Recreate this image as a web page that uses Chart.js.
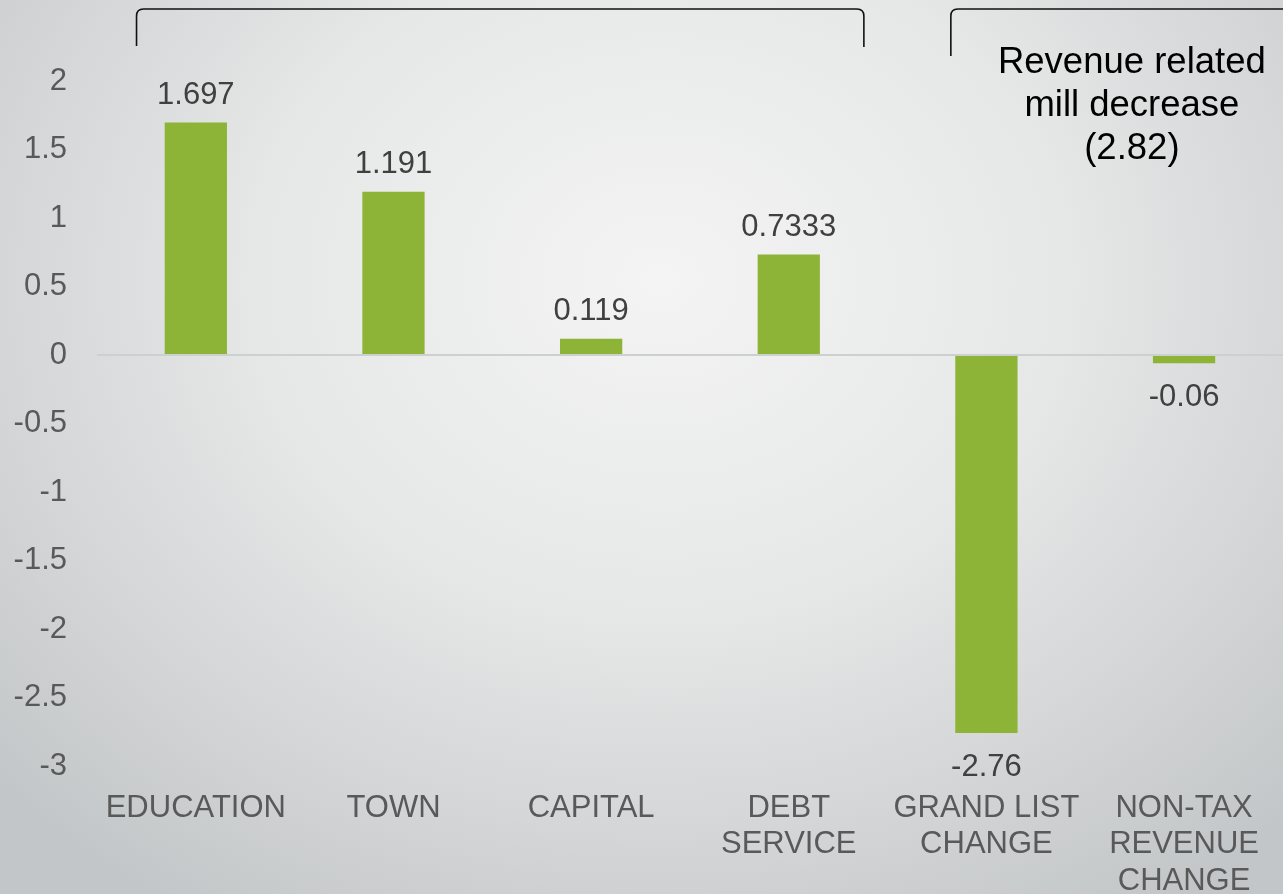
<!DOCTYPE html>
<html>
<head>
<meta charset="utf-8">
<script src="https://cdn.jsdelivr.net/npm/chart.js@4/dist/chart.umd.min.js"></script>
<style>
  html, body { margin: 0; padding: 0; }
  body { width: 1283px; height: 894px; overflow: hidden;
    background: radial-gradient(ellipse 900px 750px at 660px 280px, #f4f4f4 0%, #e6e7e7 45%, #c3c6c8 100%); }
  #wrap { position: absolute; left: 0; top: 0; width: 1283px; height: 894px; }
</style>
</head>
<body>
<div id="wrap"><canvas id="c" width="1283" height="894"></canvas></div>
<script>
const categories = [["EDUCATION"], ["TOWN"], ["CAPITAL"], ["DEBT", "SERVICE"], ["GRAND LIST", "CHANGE"], ["NON-TAX", "REVENUE", "CHANGE"]];
const values = [1.697, 1.191, 0.119, 0.7333, -2.76, -0.06];
const yTickLabels = ["2", "1.5", "1", "0.5", "0", "-0.5", "-1", "-1.5", "-2", "-2.5", "-3"];
const noteLines = ["Revenue related", "mill decrease", "(2.82)"];

const FONT = "'Liberation Sans', Arial, sans-serif";

const overlay = {
  id: 'overlay',
  afterDatasetsDraw(chart) {
    const ctx = chart.ctx;
    const meta = chart.getDatasetMeta(0);
    ctx.save();
    ctx.font = "31px " + FONT;
    ctx.fillStyle = "#404040";
    ctx.textAlign = "center";
    ctx.textBaseline = "middle";
    meta.data.forEach((bar, i) => {
      const v = values[i];
      const y = v >= 0 ? bar.y - 27 : bar.y + 34;
      ctx.fillText(String(v), bar.x, y);
    });
    ctx.restore();

    // brackets
    const xs = chart.scales.x;
    const w = xs.getPixelForValue(1) - xs.getPixelForValue(0);
    ctx.save();
    ctx.strokeStyle = "#111";
    ctx.lineWidth = 1.6;
    const r = 7;
    const top = 9;
    const l1 = xs.getPixelForValue(0) - 0.30 * w, r1 = xs.getPixelForValue(3) + 0.38 * w;
    ctx.beginPath();
    ctx.moveTo(l1, 46);
    ctx.lineTo(l1, top + r);
    ctx.quadraticCurveTo(l1, top, l1 + r, top);
    ctx.lineTo(r1 - r, top);
    ctx.quadraticCurveTo(r1, top, r1, top + r);
    ctx.lineTo(r1, 47);
    ctx.stroke();
    const l2 = xs.getPixelForValue(4) - 0.18 * w;
    ctx.beginPath();
    ctx.moveTo(l2, 56);
    ctx.lineTo(l2, top + r);
    ctx.quadraticCurveTo(l2, top, l2 + r, top);
    ctx.lineTo(chart.width + 5, top);
    ctx.stroke();

    ctx.fillStyle = "#000";
    ctx.font = "36.5px " + FONT;
    ctx.textAlign = "center";
    ctx.textBaseline = "middle";
    const cx = chart.chartArea.right - 151;
    noteLines.forEach((t, i) => ctx.fillText(t, cx, 63 + i * 43));
    ctx.restore();
  }
};

new Chart(document.getElementById('c'), {
  type: 'bar',
  data: {
    labels: categories,
    datasets: [{
      data: values,
      backgroundColor: "#8DB436",
      borderWidth: 0,
      barPercentage: 0.5,
      categoryPercentage: 0.63
    }]
  },
  options: {
    responsive: false,
    animation: false,
    devicePixelRatio: 1,
    layout: { padding: { top: 81, right: 0, left: 0, bottom: 0 } },
    plugins: { legend: { display: false }, tooltip: { enabled: false } },
    scales: {
      x: {
        grid: { display: false, drawTicks: false },
        border: { display: false },
        ticks: {
          autoSkip: false, maxRotation: 0, minRotation: 0,
          padding: 24,
          color: "#595959",
          font: { family: FONT, size: 31, lineHeight: 1.18 }
        },
        afterFit(s) { s.height = 128; }
      },
      y: {
        min: -3, max: 2,
        grid: {
          drawTicks: false,
          color: (c) => (c.tick && c.tick.value === 0) ? "#cdd0d0" : "rgba(0,0,0,0)",
          lineWidth: 2
        },
        border: { display: false },
        ticks: {
          stepSize: 0.5,
          padding: 30,
          color: "#595959",
          font: { family: FONT, size: 31 },
          callback: (v, i) => yTickLabels[yTickLabels.length - 1 - i]
        },
        afterFit(s) { s.width = 97; }
      }
    }
  },
  plugins: [overlay]
});
</script>
</body>
</html>
